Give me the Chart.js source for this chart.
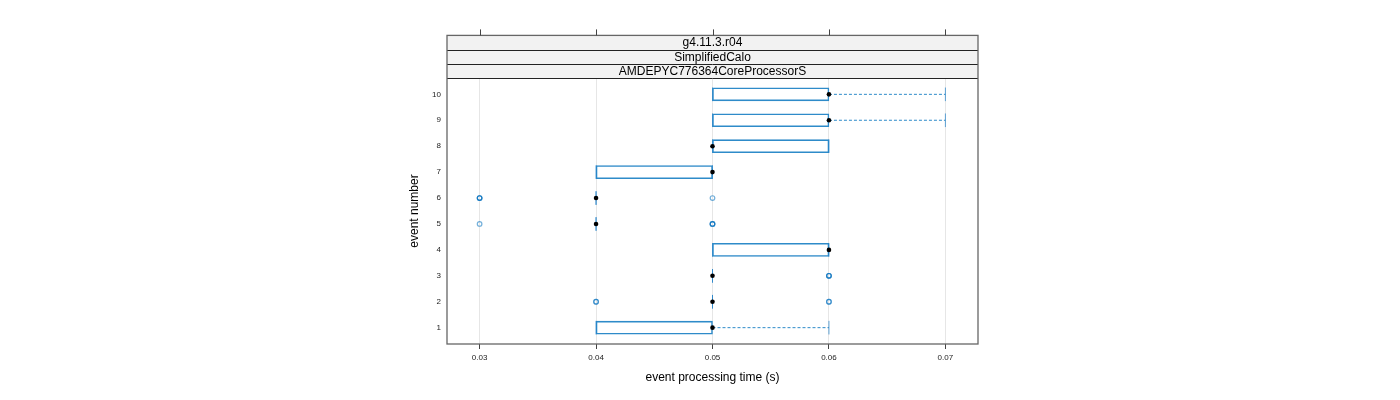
<!DOCTYPE html>
<html lang="en">
<head>
    <meta charset="UTF-8">
    <title>event processing time</title>
    <script src="https://cdn.jsdelivr.net/npm/chart.js"></script>
    <style>
        body {
            margin: 0;
            padding: 0;
            background-color: white;
        }
        #wrap {
            width: 1400px;
            height: 400px;
        }
    </style>
</head>
<body>
    <div id="wrap">
        <canvas id="bwChart" width="1400" height="400"></canvas>
    </div>

    <script>
        // Data (seconds per event)
        const events = [1, 2, 3, 4, 5, 6, 7, 8, 9, 10];
        const whiskerLow = [0.04, 0.05, 0.05, 0.05, 0.04, 0.04, 0.04, 0.05, 0.05, 0.05];
        const q1 = [0.04, 0.05, 0.05, 0.05, 0.04, 0.04, 0.04, 0.05, 0.05, 0.05];
        const medians = [0.05, 0.05, 0.05, 0.06, 0.04, 0.04, 0.05, 0.05, 0.06, 0.06];
        const q3 = [0.05, 0.05, 0.05, 0.06, 0.04, 0.04, 0.05, 0.06, 0.06, 0.06];
        const whiskerHigh = [0.06, 0.05, 0.05, 0.06, 0.04, 0.04, 0.05, 0.06, 0.07, 0.07];
        // outliers, repeated values overlap (darker rings)
        const outlierEvent = [2, 2, 2, 2, 3, 3, 3, 5, 5, 5, 5, 6, 6, 6, 6];
        const outlierTime = [0.04, 0.04, 0.06, 0.06, 0.06, 0.06, 0.06, 0.03, 0.05, 0.05, 0.05, 0.03, 0.03, 0.03, 0.05];

        const xTicks = [0.03, 0.04, 0.05, 0.06, 0.07];
        const stripLabels = ['g4.11.3.r04', 'SimplifiedCalo', 'AMDEPYC776364CoreProcessorS'];

        const boxColor = '#2e8bc9';
        const fontName = "'Liberation Sans', Arial, sans-serif";

        // build datasets from the arrays
        const gap = { x: NaN, y: NaN };
        const boxData = events.map((e, i) => ({ y: e, x: [q1[i], q3[i]] }));
        const medianData = events.map((e, i) => ({ x: medians[i], y: e }));
        const whiskerData = [];
        const capData = [];
        events.forEach((e, i) => {
            if (whiskerHigh[i] > q3[i]) {
                whiskerData.push({ x: q3[i], y: e }, { x: whiskerHigh[i], y: e }, gap);
            }
            if (whiskerLow[i] < q1[i]) {
                whiskerData.push({ x: whiskerLow[i], y: e }, { x: q1[i], y: e }, gap);
            }
            capData.push({ x: whiskerLow[i], y: e }, { x: whiskerHigh[i], y: e });
        });
        const outlierData = outlierEvent.map((e, i) => ({ x: outlierTime[i], y: e }));

        // strips, panel frame and top ticks
        const latticeFrame = {
            id: 'latticeFrame',
            afterDraw(chart) {
                const ctx = chart.ctx;
                const area = chart.chartArea;
                const xs = chart.scales.x;
                const stripH = 14.2;
                const top = area.top - stripH * stripLabels.length;
                ctx.save();
                // strips
                ctx.fillStyle = '#f2f2f2';
                ctx.fillRect(area.left, top, area.right - area.left, area.top - top);
                ctx.font = '12px ' + fontName;
                ctx.fillStyle = '#000';
                ctx.textAlign = 'center';
                ctx.textBaseline = 'middle';
                stripLabels.forEach((s, i) => {
                    const y0 = top + i * stripH;
                    ctx.fillText(s, (area.left + area.right) / 2, y0 + stripH / 2 + 0.5);
                });
                ctx.strokeStyle = '#222';
                ctx.lineWidth = 1;
                for (let i = 1; i <= stripLabels.length; i++) {
                    const y0 = Math.round(top + i * stripH) + 0.5;
                    ctx.beginPath();
                    ctx.moveTo(area.left, y0);
                    ctx.lineTo(area.right, y0);
                    ctx.stroke();
                }
                // outer frame
                ctx.strokeStyle = '#666';
                ctx.lineWidth = 1.3;
                ctx.strokeRect(area.left, top, area.right - area.left, area.bottom - top);
                // top ticks
                ctx.strokeStyle = '#444';
                ctx.lineWidth = 1;
                xTicks.forEach(v => {
                    const px = Math.round(xs.getPixelForValue(v)) + 0.5;
                    ctx.beginPath();
                    ctx.moveTo(px, top);
                    ctx.lineTo(px, top - 6);
                    ctx.stroke();
                });
                ctx.restore();
            }
        };

        const ctx = document.getElementById('bwChart').getContext('2d');
        const bwChart = new Chart(ctx, {
            type: 'bar',
            data: {
                datasets: [
                    {
                        type: 'scatter',
                        label: 'median',
                        data: medianData,
                        pointRadius: 2.3,
                        pointBackgroundColor: '#000',
                        pointBorderColor: '#000',
                        pointBorderWidth: 0
                    },
                    {
                        type: 'scatter',
                        label: 'outliers',
                        data: outlierData,
                        pointRadius: 2.3,
                        pointBackgroundColor: 'rgba(0,0,0,0)',
                        pointBorderColor: 'rgba(0,112,190,0.55)',
                        pointBorderWidth: 1.2
                    },
                    {
                        type: 'scatter',
                        label: 'caps',
                        data: capData,
                        pointStyle: 'line',
                        rotation: 90,
                        pointRadius: 6.8,
                        pointBorderColor: 'rgba(31,128,200,0.7)',
                        pointBorderWidth: 1
                    },
                    {
                        type: 'scatter',
                        label: 'whiskers',
                        data: whiskerData,
                        showLine: true,
                        spanGaps: false,
                        borderColor: boxColor,
                        borderWidth: 1,
                        borderDash: [3, 2],
                        pointRadius: 0
                    },
                    {
                        label: 'box',
                        data: boxData,
                        backgroundColor: 'rgba(255,255,255,0)',
                        borderColor: boxColor,
                        borderWidth: 0.9,
                        borderSkipped: false,
                        barThickness: 13
                    }
                ]
            },
            options: {
                indexAxis: 'y',
                responsive: false,
                animation: false,
                events: [],
                layout: {
                    padding: { left: 406, right: 422, top: 78, bottom: 0 }
                },
                plugins: {
                    legend: { display: false },
                    tooltip: { enabled: false }
                },
                scales: {
                    x: {
                        type: 'linear',
                        min: 0.0272,
                        max: 0.0728,
                        afterFit: scale => { scale.height = 56; },
                        afterBuildTicks: scale => {
                            scale.ticks = xTicks.map(v => ({ value: v }));
                        },
                        ticks: {
                            font: { size: 8, family: fontName },
                            color: '#222',
                            padding: 4,
                            maxRotation: 0,
                            callback: v => String(v)
                        },
                        grid: {
                            color: '#e6e6e6',
                            tickColor: '#444',
                            tickLength: 5,
                            drawTicks: true
                        },
                        border: { display: false },
                        title: {
                            display: true,
                            text: 'event processing time (s)',
                            font: { size: 12, family: fontName },
                            color: '#000',
                            padding: { top: 4, bottom: 15 }
                        }
                    },
                    y: {
                        type: 'linear',
                        offset: false,
                        min: 0.37,
                        max: 10.63,
                        afterFit: scale => { scale.width = 41; },
                        afterBuildTicks: scale => {
                            scale.ticks = events.map(v => ({ value: v }));
                        },
                        ticks: {
                            font: { size: 8, family: fontName },
                            color: '#222',
                            padding: 6
                        },
                        grid: { display: false, drawTicks: false, offset: false },
                        border: { display: false },
                        title: {
                            display: true,
                            text: 'event number',
                            font: { size: 12, family: fontName },
                            color: '#000',
                            padding: { top: 1, bottom: 4 }
                        }
                    }
                }
            },
            plugins: [latticeFrame]
        });
    </script>
</body>
</html>
